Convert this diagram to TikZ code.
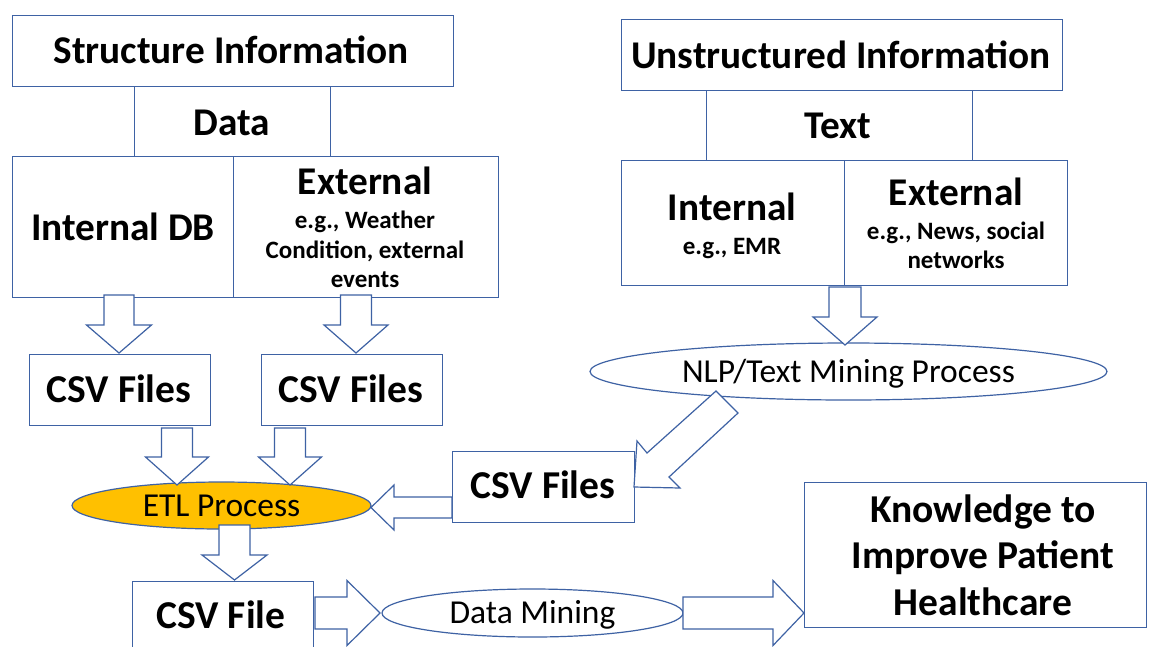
\documentclass[tikz,border=0pt]{standalone}
\usepackage{fontspec}
\setmainfont{Carlito}
\usetikzlibrary{shapes.geometric}
\definecolor{lineblue}{RGB}{62,98,164}
\definecolor{etlorange}{RGB}{255,192,0}
\tikzset{
  box/.style={draw=lineblue, line width=1.3pt, fill=white, inner sep=0pt, anchor=north west},
  oval/.style={ellipse, draw=lineblue, line width=1.2pt, inner sep=0pt, text height=21pt, text depth=0pt, font=\fontsize{33.5}{36}\selectfont},
  barrow/.style={draw=lineblue, line width=1.2pt, fill=white, line join=miter},
  big/.style={anchor=base, inner sep=0pt, font=\fontsize{39.3}{42}\selectfont\bfseries},
  mid/.style={anchor=base, inner sep=0pt, font=\fontsize{39.5}{42}\selectfont\bfseries},
  small/.style={anchor=base, inner sep=0pt, font=\fontsize{25}{27}\selectfont\bfseries}
}
\newcommand\dnarrow[6]{\draw[barrow] ({#1-#5},#2) -- ({#1+#5},#2) -- ({#1+#5},#3) -- ({#1+#6},#3) -- (#1,#4) -- ({#1-#6},#3) -- ({#1-#5},#3) -- cycle;}
\newcommand\hzarrow[6]{\draw[barrow] (#2,{#1-#5}) -- (#3,{#1-#5}) -- (#3,{#1-#6}) -- (#4,#1) -- (#3,{#1+#6}) -- (#3,{#1+#5}) -- (#2,{#1+#5}) -- cycle;}
\begin{document}
\begin{tikzpicture}[x=1pt,y=-1pt]
\useasboundingbox (0,0) rectangle (1150,646);
\clip (0,0) rectangle (1150,646);
\fill[white] (0,0) rectangle (1150,646);
% ---------- structured side
\node[box, minimum width=441pt, minimum height=71pt] (si) at (12,15) {};
\node[box, minimum width=196pt, minimum height=70pt] (data) at (134,86) {};
\node[box, minimum width=221pt, minimum height=141pt] (intdb) at (12,156) {};
\node[box, minimum width=265pt, minimum height=141pt] (ext) at (233,156) {};
\node[big] (sit) at (231,63) {Structure Information};
\node[big] (datat) at (232,135) {Data};
\node[big] (intdbt) at (123,240) {Internal DB};
\node[big] (extt) at (365,194) {External};
\node[small] (ext1) at (365,228) {e.g., Weather};
\node[small] (ext2) at (365,258) {Condition, external};
\node[small] (ext3) at (365,287) {events};
% ---------- unstructured side
\node[box, minimum width=441pt, minimum height=71pt] (ui) at (621,19) {};
\node[box, minimum width=266pt, minimum height=70pt] (text) at (706,90) {};
\node[box, minimum width=223pt, minimum height=125pt] (tint) at (621,160) {};
\node[box, minimum width=223pt, minimum height=125pt] (text2) at (844,160) {};
\node[big] (uit) at (841,68) {Unstructured Information};
\node[big] (textt) at (838,138) {Text};
\node[big] (tintt) at (732,220) {Internal};
\node[small] (tint1) at (732,254) {e.g., EMR};
\node[big] (text2t) at (956,205) {External};
\node[small] (text21) at (956,239) {e.g., News, social};
\node[small] (text22) at (956,268) {networks};
% ---------- csv boxes
\node[box, minimum width=181pt, minimum height=71pt] (csv1) at (29,354) {};
\node[box, minimum width=181pt, minimum height=71pt] (csv2) at (261,354) {};
\node[box, minimum width=182pt, minimum height=71pt] (csv3) at (452,451) {};
\node[box, minimum width=181pt, minimum height=90pt] (csvf) at (132,581) {};
\node[box, minimum width=342pt, minimum height=145pt] (know) at (804,482) {};
\node[mid] (csv1t) at (119,402) {CSV Files};
\node[mid] (csv2t) at (351,402) {CSV Files};
\node[mid] (csv3t) at (543,498) {CSV Files};
\node[mid] (csvft) at (221,628) {CSV File};
\node[mid] (know1) at (983,522) {Knowledge to};
\node[mid] (know2) at (983,568) {Improve Patient};
\node[mid] (know3) at (983,615) {Healthcare};
% ---------- ellipses
\node[oval, minimum width=517pt, minimum height=57pt] (nlp) at (848.5,371.5) {NLP/Text Mining Process};
\node[oval, fill=etlorange, minimum width=299pt, minimum height=47pt] (etl) at (221.5,505.5) {ETL Process};
\node[oval, minimum width=301pt, minimum height=48pt] (dm) at (532.5,613) {Data Mining};
% ---------- block arrows
\dnarrow{119}{295}{325}{353}{15}{32.5}
\dnarrow{356}{295}{325}{353}{15.5}{32}
\dnarrow{177}{428}{457}{485}{15.5}{31.5}
\dnarrow{290}{428}{457}{485}{15.5}{31.5}
\dnarrow{234.5}{525}{555}{580}{15.5}{32.5}
\dnarrow{845}{287}{317}{345}{16}{32}
\hzarrow{613}{315}{347}{380}{16}{32.5}
\hzarrow{613}{683}{773}{804}{16}{32.5}
\hzarrow{507.5}{452}{394}{371}{10.5}{22.5}
\draw[barrow] (716,391) -- (647,453) -- (637,441) -- (634,487) -- (680,488) -- (669,477) -- (738,413) -- cycle;
\end{tikzpicture}
\end{document}
